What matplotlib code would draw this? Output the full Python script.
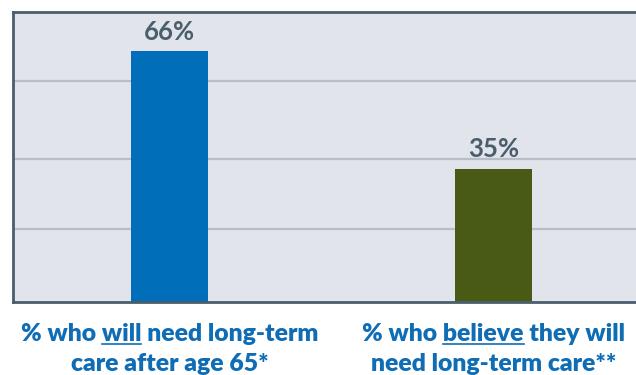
import matplotlib.pyplot as plt
from matplotlib.lines import Line2D

plt.rcParams['font.family'] = ['Lato', 'DejaVu Sans']

values = [66, 35]
value_labels = ['66%', '35%']
label_lines = [['% who will need long-term', 'care after age 65*'],
               ['% who believe they will', 'need long-term care**']]
underlined = ['will', 'believe']
bar_colors = ['#006eb8', '#485a14']
grid_vals = [19.1, 37.6, 58.3]

dark = '#4a5e6e'
blue_txt = '#0f6db5'

fig = plt.figure(figsize=(6.36, 3.75), dpi=100)
ax = fig.add_axes([12.5 / 636, 73.3 / 375, 1.0, 290.2 / 375])
ax.set_facecolor('#e1e4ea')

x = list(range(len(values)))
ax.bar(x, values, width=0.238, color=bar_colors, zorder=2)
ax.set_xlim(-0.4846, 1.4784)
ax.set_ylim(0, 76.5)

ax.set_yticks(grid_vals)
ax.grid(axis='y', color='#b7bec8', lw=1.6)
ax.set_axisbelow(True)
ax.tick_params(length=0, labelleft=False, labelbottom=False)
ax.set_xticks([])
for s in ['top', 'bottom', 'left']:
    ax.spines[s].set_color(dark)
    ax.spines[s].set_linewidth(2.0)
ax.spines['right'].set_visible(False)

for i, v in enumerate(values):
    ax.annotate(value_labels[i], (i, v), xytext=(0, 8.5), textcoords='offset points',
                ha='center', va='baseline', fontsize=18.5, fontweight='bold', color=dark)

# category labels below the axis, with one underlined word each
fs = 17.8
renderer = fig.canvas.get_renderer()
line_y = [1 - 340.7 / 375, 1 - 370.7 / 375]
for i, lines in enumerate(label_lines):
    cx = ax.transData.transform((i, 0))[0] / fig.bbox.width
    for j, s in enumerate(lines):
        t = fig.text(cx, line_y[j], s, ha='center', va='baseline', fontsize=fs,
                     fontweight='heavy', color=blue_txt)
        if j == 0:
            bb = t.get_window_extent(renderer)
            word = underlined[i]
            k = s.index(word)
            pre = fig.text(0, 0, s[:k], fontsize=fs, fontweight='heavy')
            pre_w = pre.get_window_extent(renderer).width if s[:k].strip() else 0
            wt = fig.text(0, 0, s[:k] + word, fontsize=fs, fontweight='heavy')
            end_w = wt.get_window_extent(renderer).width
            pre.remove()
            wt.remove()
            x0 = (bb.x0 + pre_w) / fig.bbox.width
            x1 = (bb.x0 + end_w) / fig.bbox.width
            uy = 1 - 343.5 / 375
            fig.add_artist(Line2D([x0, x1], [uy, uy], color=blue_txt, lw=1.2))

fig.savefig('out.png', dpi=100)
